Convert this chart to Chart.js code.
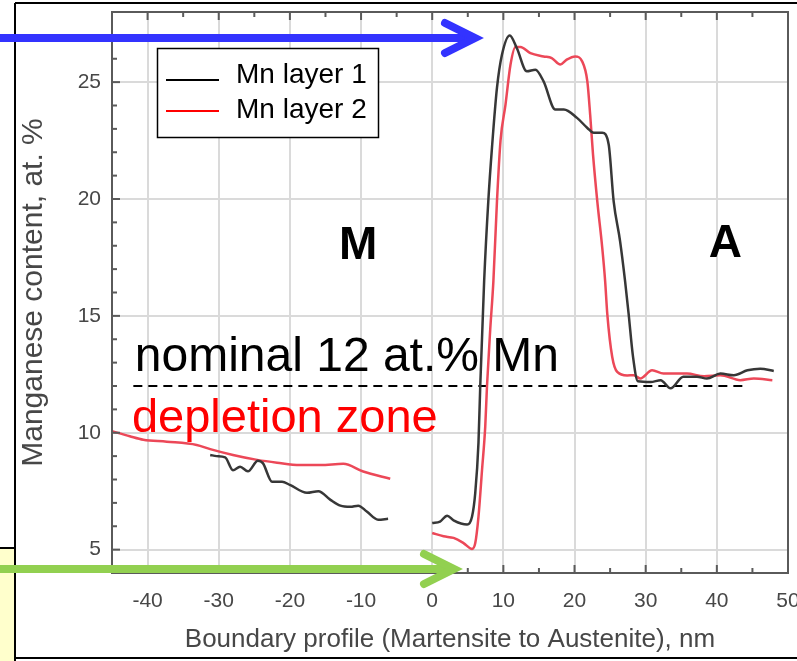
<!DOCTYPE html>
<html>
<head>
<meta charset="utf-8">
<script src="https://cdn.jsdelivr.net/npm/chart.js@4"></script>
<style>
  html, body { margin: 0; padding: 0; background: #fff; }
  #wrap { width: 797px; height: 661px; }
</style>
</head>
<body>
<div id="wrap"><canvas id="mnChart" width="797" height="661"></canvas></div>
<script>
// Mn profile across the martensite / austenite boundary (null = gap in the profile)
const layer1Pos = [-31.2, -30.3, -29.1, -28.0, -27.0, -25.9, -24.5, -23.8, -22.5, -21.1, -20.0, -17.6, -16.0, -14.3, -12.9, -11.5, -10.4, -9.2, -7.6, -6.2,
  -3,
  0, 1.1, 2.1, 3.0, 4.9, 5.6, 6.05, 6.5, 6.75, 7.3, 7.9, 8.4, 9.1, 9.8, 10.9, 11.9, 13.3, 14.5, 15.65, 17.3, 18.5, 20.35, 21.8, 22.7, 23.9, 24.8,
  25.5, 26.4, 27.1, 27.6, 28.2, 28.9, 30.7, 32.1, 33.5, 35.3, 37.2, 38.6, 40.5, 42.4, 44.3, 46.1, 48.0];
const layer1Val = [9.05, 9.0, 8.95, 8.4, 8.55, 8.35, 8.8, 8.7, 7.9, 7.9, 7.77, 7.43, 7.5, 7.13, 6.88, 6.83, 6.88, 6.63, 6.28, 6.32,
  null,
  6.14, 6.2, 6.45, 6.25, 6.07, 6.42, 7.43, 9.56, 12.0, 16.5, 20.0, 22.2, 24.75, 26.17, 27.0, 26.45, 25.46, 25.53, 25.03, 23.83, 23.83, 23.47, 23.04, 22.83, 22.83, 22.33,
  19.9, 18.2, 16.5, 15.1, 13.3, 12.2, 12.17, 12.25, 11.9, 12.4, 12.4, 12.32, 12.53, 12.46, 12.67, 12.74, 12.64];

const layer2Pos = [-45, -42.5, -40.6, -37.3, -33.1, -31.2, -28.0, -24.6, -21.8, -18.6, -15.7, -12.5, -9.7, -5.9,
  -3,
  0, 1.6, 3.0, 4.4, 5.6, 6.05, 6.5, 7.0, 7.45, 7.7, 8.15, 8.6, 9.1, 9.6, 10.3, 11.0, 11.7, 12.4, 13.8, 15.65, 16.8, 18.0, 18.9, 20.1, 21.05, 21.8,
  22.2, 22.6, 23.2, 23.9, 24.3, 24.6, 25.3, 26.0, 27.4, 28.3, 29.25, 30.9, 32.5, 35.8, 38.2, 40.5, 43.3, 45.2, 47.8];
const layer2Val = [10.07, 9.85, 9.7, 9.62, 9.48, 9.3, 9.05, 8.84, 8.72, 8.62, 8.62, 8.67, 8.34, 8.03,
  null,
  5.71, 5.57, 5.5, 5.28, 5.03, 5.28, 6.4, 8.4, 10.25, 12.0, 14.4, 16.5, 19.9, 22.5, 24.04, 25.74, 26.5, 26.5, 26.24, 26.1, 26.03, 25.75, 25.96, 26.1, 25.9, 25.03,
  23.6, 21.9, 19.9, 17.9, 16.5, 15.1, 13.24, 12.6, 12.45, 12.46, 12.32, 12.67, 12.53, 12.53, 12.42, 12.46, 12.25, 12.32, 12.25];

const nominalPos = [-42, 44];
const nominalVal = [12, 12];

const xTickVals = [-40, -30, -20, -10, 0, 10, 20, 30, 40, 50];
const yTickVals = [5, 10, 15, 20, 25];

function toPoints(pos, val) {
  return pos.map((x, i) => ({x: x, y: val[i]}));
}

const GREY = '#474747';
const FONT = '"Liberation Sans", Arial, sans-serif';

function line(c, x1, y1, x2, y2) {
  c.beginPath(); c.moveTo(x1, y1); c.lineTo(x2, y2); c.stroke();
}

function arrow(c, color, y, tipX) {
  c.save();
  c.strokeStyle = color;
  c.lineWidth = 8;
  c.lineCap = 'round';
  c.lineJoin = 'miter';
  line(c, 0, y, tipX - 6, y);
  c.beginPath();
  c.moveTo(tipX - 30, y - 15);
  c.lineTo(tipX, y);
  c.lineTo(tipX - 30, y + 15);
  c.stroke();
  c.restore();
}

const decor = {
  id: 'decor',
  beforeDraw(chart) {
    const c = chart.ctx;
    c.save();
    c.fillStyle = '#fff';
    c.fillRect(0, 0, chart.width, chart.height);
    c.restore();
  },
  afterDatasetsDraw(chart) {
    const c = chart.ctx;
    const xs = chart.scales.x, ys = chart.scales.y;
    const {left, right, top, bottom} = chart.chartArea;
    c.save();
    // inward tick marks + frame
    c.strokeStyle = '#5a5a5a';
    c.lineWidth = 2;
    for (let v = -45; v <= 50; v += 5) {
      const px = xs.getPixelForValue(v);
      const len = v % 10 === 0 ? 8 : 5;
      line(c, px, bottom, px, bottom - len);
      line(c, px, top, px, top + len);
    }
    for (let v = 4; v <= 28; v++) {
      const py = ys.getPixelForValue(v);
      const len = v % 5 === 0 ? 8 : 5;
      line(c, left, py, left + len, py);
    }
    c.strokeRect(left, top, right - left, bottom - top);

    // annotations
    c.textAlign = 'left';
    c.textBaseline = 'alphabetic';
    c.fillStyle = '#000';
    c.font = '48px ' + FONT;
    c.fillText('nominal 12 at.% Mn', xs.getPixelForValue(-41.8), ys.getPixelForValue(12.63));
    c.fillStyle = '#ff0000';
    c.font = '47px ' + FONT;
    c.fillText('depletion zone', xs.getPixelForValue(-42.2), ys.getPixelForValue(10.03));
    c.fillStyle = '#000';
    c.font = 'bold 46px ' + FONT;
    c.textAlign = 'center';
    c.fillText('M', xs.getPixelForValue(-10.4), ys.getPixelForValue(17.45));
    c.fillText('A', xs.getPixelForValue(41.2), ys.getPixelForValue(17.5));

    // legend box
    c.fillStyle = '#fff';
    c.fillRect(157, 48, 222, 90);
    c.strokeStyle = '#000';
    c.lineWidth = 1.5;
    c.strokeRect(157.5, 48.5, 221, 89);
    c.lineWidth = 2;
    c.strokeStyle = '#000';
    line(c, 166, 80, 219, 80);
    c.strokeStyle = '#ff0000';
    line(c, 166, 111, 219, 111);
    c.fillStyle = '#000';
    c.font = '28px ' + FONT;
    c.textAlign = 'left';
    c.fillText(chart.data.datasets[0].label, 236, 83);
    c.fillText(chart.data.datasets[1].label, 236, 118);
    c.restore();
  },
  afterDraw(chart) {
    const c = chart.ctx;
    c.save();
    // outer slide frame and yellow box
    c.fillStyle = 'rgb(255,255,204)';
    c.fillRect(0, 548, 15, 113);
    c.strokeStyle = '#000';
    c.lineWidth = 2;
    line(c, 0, 548, 15, 548);
    line(c, 15, 3, 15, 661);
    line(c, 15, 3, 797, 3);
    line(c, 15, 658, 797, 658);
    arrow(c, 'rgb(51,51,255)', 38, 475);
    arrow(c, 'rgb(146,208,80)', 569, 454);
    c.restore();
  }
};

const mnChart = new Chart(document.getElementById('mnChart'), {
  type: 'line',
  data: {
    datasets: [
      {
        label: 'Mn layer 1',
        data: toPoints(layer1Pos, layer1Val),
        borderColor: 'rgb(55,55,55)',
        borderWidth: 2.5,
        pointRadius: 0,
        cubicInterpolationMode: 'monotone',
        spanGaps: false,
        fill: false
      },
      {
        label: 'Mn layer 2',
        data: toPoints(layer2Pos, layer2Val),
        borderColor: 'rgb(236,72,88)',
        borderWidth: 2.5,
        pointRadius: 0,
        cubicInterpolationMode: 'monotone',
        spanGaps: false,
        fill: false
      },
      {
        label: 'nominal',
        data: toPoints(nominalPos, nominalVal),
        borderColor: '#000',
        borderWidth: 2,
        borderDash: [9, 6],
        pointRadius: 0,
        fill: false
      }
    ]
  },
  options: {
    responsive: false,
    animation: false,
    devicePixelRatio: 1,
    layout: {padding: {left: 16, right: 9, top: 12, bottom: 6}},
    plugins: {
      legend: {display: false},
      tooltip: {enabled: false}
    },
    scales: {
      x: {
        type: 'linear',
        min: -45,
        max: 50,
        afterBuildTicks: s => { s.ticks = xTickVals.map(v => ({value: v})); },
        afterFit: s => { s.height = 82; s.paddingLeft = 0; s.paddingRight = 0; },
        grid: {color: 'rgb(218,218,218)', lineWidth: 2, drawTicks: false},
        border: {display: false},
        ticks: {color: GREY, font: {family: FONT, size: 21}, padding: 16, autoSkip: false, maxRotation: 0},
        title: {display: true, text: 'Boundary profile (Martensite to Austenite), nm', color: GREY,
          font: {family: FONT, size: 26}, padding: 0}
      },
      y: {
        type: 'linear',
        min: 4,
        max: 28,
        afterBuildTicks: s => { s.ticks = yTickVals.map(v => ({value: v})); },
        afterFit: s => { s.width = 96; s.paddingTop = 0; s.paddingBottom = 0; },
        grid: {color: 'rgb(218,218,218)', lineWidth: 2, drawTicks: false},
        border: {display: false},
        ticks: {color: GREY, font: {family: FONT, size: 21}, padding: 11, autoSkip: false},
        title: {display: true, text: 'Manganese content, at. %', color: GREY,
          font: {family: FONT, size: 30}, padding: 0}
      }
    }
  },
  plugins: [decor]
});
</script>
</body>
</html>
